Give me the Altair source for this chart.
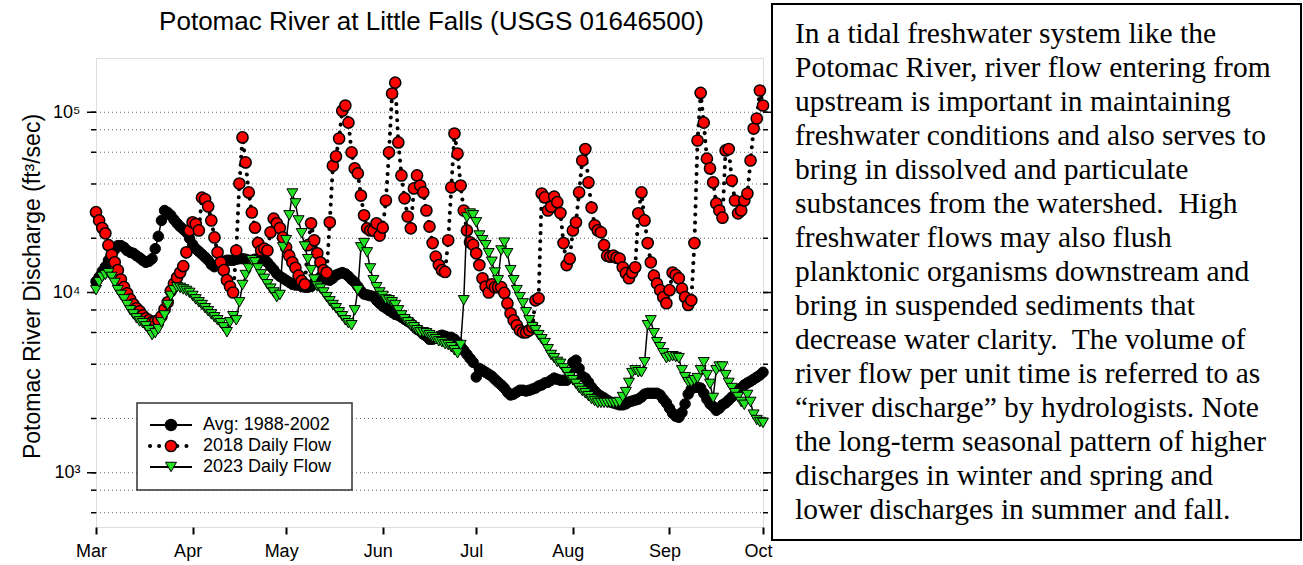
import altair as alt
import pandas as pd

# ---------------- data ----------------
month_labels = ["Mar", "Apr", "May", "Jun", "Jul", "Aug", "Sep", "Oct"]
month_start_days = [0, 31, 61, 92, 122, 153, 184, 214]

y_tick_values = [1000, 10000, 100000]
y_tick_labels = ["10\u00b3", "10\u2074", "10\u2075"]
grid_values = [600, 800, 1000, 2000, 4000, 6000, 8000, 10000, 20000, 40000, 60000, 80000, 100000]

series_names = ["Avg: 1988-2002", "2018 Daily Flow", "2023 Daily Flow"]

avg_1988_2002 = [
    11500, 12200, 13100, 13900, 15100, 16200, 17300, 18200, 18200, 17800,
    17100, 16700, 16500, 16000, 15600, 15100, 14700, 14900, 15400, 17500,
    20500, 25100, 28500, 27800, 26800, 25400, 24200, 23200, 22400, 21600,
    20000, 18500, 17500, 16900, 16300, 15700, 15100, 14300, 13900, 14300,
    14700, 14900, 15100, 15100, 15100, 15300, 15400, 15400, 15300, 15100,
    15100, 15300, 15400, 15400, 15300, 14700, 14000, 13400, 12700, 12300,
    12000, 11700, 11400, 11100, 11000, 11000, 10800, 10700, 10700, 10800,
    11300, 11800, 12200, 12000, 11800, 11700, 12000, 12500, 12700, 12900,
    12700, 12300, 11800, 11400, 10800, 10200, 9800, 9700, 9600, 9500,
    9050, 8700, 8400, 8200, 7960, 7760, 7560, 7470, 7290, 7100,
    6930, 6760, 6500, 6250, 6100, 5870, 5720, 5500, 5500, 5570,
    5720, 5800, 5720, 5640, 5640, 5500, 5300, 5030, 4780, 4540,
    4310, 4100, 3400, 3790, 3700, 3610, 3520, 3430, 3300, 3180,
    3070, 2950, 2800, 2700, 2730, 2800, 2870, 2870, 2840, 2870,
    2910, 2950, 3030, 3070, 3150, 3180, 3260, 3350, 3300, 3260,
    3260, 3260, 3610, 4100, 4210, 3790, 3430, 3350, 3180, 2980,
    2840, 2730, 2660, 2600, 2530, 2470, 2440, 2410, 2380, 2380,
    2410, 2470, 2500, 2530, 2560, 2630, 2730, 2760, 2760, 2760,
    2760, 2700, 2560, 2440, 2280, 2140, 2060, 2030, 2160, 2410,
    2730, 2910, 2980, 2980, 2950, 2760, 2560, 2410, 2330, 2220,
    2280, 2380, 2440, 2530, 2630, 2730, 2840, 2950, 3070, 3150,
    3220, 3300, 3390, 3480, 3610,
]

flow_2018 = [
    27900, 25100, 22800, 21300, 18300, 16200, 14700, 13300, 11800, 10700,
    9900, 9150, 8600, 8180, 7860, 7460, 7180, 7010, 6830, 6920,
    7010, 7380, 8070, 8820, 10200, 11200, 12100, 12900, 14000, 16700,
    22100, 24500, 24000, 22100, 33600, 32900, 30000, 25100, 20200, 16700,
    14700, 13300, 11700, 10800, 10000, 17100, 40200, 72500, 52700, 35900,
    27800, 22900, 18800, 17100, 17500, 17100, 21600, 25700, 24200, 22800,
    20200, 17800, 16000, 14700, 13700, 12400, 11600, 11100, 18300, 24200,
    19500, 16500, 14700, 13300, 12900, 24500, 50500, 56900, 71500, 102000,
    109000, 87600, 59900, 48800, 45800, 34500, 26800, 22700, 22100, 22100,
    24200, 20700, 22900, 32400, 59900, 127000, 146000, 68000, 44600, 33300,
    26400, 22700, 37800, 44600, 39200, 35900, 28500, 23200, 18800, 15800,
    14200, 13300, 13000, 19500, 38300, 76200, 58900, 39200, 28500, 22100,
    19000, 18400, 16500, 14200, 12000, 10800, 10000, 11100, 10700, 10700,
    10700, 9950, 8700, 7660, 7010, 6580, 6170, 6010, 6010, 6170,
    6420, 9050, 9280, 35400, 33700, 28500, 29900, 34000, 31700, 27600,
    18800, 14200, 15400, 22100, 24500, 35900, 54000, 62500, 40800, 29600,
    23600, 22100, 21600, 18300, 16000, 15800, 16000, 15600, 15400, 13800,
    12800, 12000, 12900, 13800, 27500, 35900, 25100, 18800, 14700, 12400,
    11200, 10300, 9420, 8720, 10300, 12900, 12500, 12000, 10500, 9420,
    8530, 9050, 18800, 69700, 128000, 87600, 55300, 48800, 40800, 31200,
    28500, 26000, 61400, 62500, 41800, 32400, 27500, 28500, 32400, 35400,
    54000, 81200, 92300, 132000, 109000,
]

flow_2023 = [
    10300, 11400, 12200, 12500, 12800, 12200, 11300, 10300, 9690, 9160,
    8520, 7960, 7560, 7190, 6910, 6750, 6490, 6170, 5800, 5950,
    6250, 6830, 7460, 8520, 9570, 10300, 10700, 10600, 10400, 10200,
    9950, 9570, 9160, 8820, 8520, 8180, 7860, 7560, 7280, 7010,
    6750, 6410, 6020, 6830, 7380, 7010, 8820, 11000, 12500, 13600,
    15100, 14700, 13600, 12600, 11900, 11100, 10500, 10000, 9420, 9690,
    17800, 19500, 26800, 35400, 31200, 25100, 21300, 18000, 15300, 13300,
    11800, 10800, 10500, 10000, 9420, 8930, 8520, 8180, 7760, 7380,
    7010, 6750, 6580, 7960, 10300, 17800, 18800, 16700, 13600, 11700,
    10700, 10000, 9570, 9150, 9050, 8820, 8520, 7960, 7460, 7100,
    6830, 6580, 6410, 6170, 6010, 6010, 5940, 5800, 5640, 5500,
    5360, 5300, 5170, 5110, 4970, 4780, 4600, 5110, 9050, 26100,
    27400, 26800, 24500, 20700, 19500, 18300, 16500, 14800, 12900, 11700,
    17100, 18900, 16500, 13300, 11700, 10300, 9420, 8700, 7770, 7010,
    6420, 6170, 5800, 5500, 5240, 4840, 4500, 4320, 4120, 4020,
    3790, 3610, 3390, 3260, 3110, 2950, 2840, 2760, 2660, 2560,
    2500, 2440, 2440, 2440, 2440, 2440, 2440, 2440, 2470, 2630,
    2800, 3150, 3570, 3700, 3610, 3610, 4100, 6580, 7010, 5940,
    5300, 4970, 4600, 4320, 4380, 4430, 4380, 4320, 3700, 3390,
    3180, 3180, 3260, 3350, 3700, 4100, 3480, 3110, 2600, 3700,
    3880, 3880, 3480, 3150, 2950, 2760, 2630, 2470, 2380, 2700,
    2470, 2100, 1960, 1910, 1890,
]

title_text = "Potomac River at Little Falls (USGS 01646500)"
y_title_text = "Potomac River Discharge (ft\u00b3/sec)"

note_lines = [
    "In a tidal freshwater system like the",
    "Potomac River, river flow entering from",
    "upstream is important in maintaining",
    "freshwater conditions and also serves to",
    "bring in dissolved and particulate",
    "substances from the watershed.\u00a0 High",
    "freshwater flows may also flush",
    "planktonic organisms downstream and",
    "bring in suspended sediments that",
    "decrease water clarity.\u00a0 The volume of",
    "river flow per unit time is referred to as",
    "\u201criver discharge\u201d by hydrologists. Note",
    "the long-term seasonal pattern of higher",
    "discharges in winter and spring and",
    "lower discharges in summer and fall.",
]

# ---------------- layout ----------------
W, H = 667, 469
PAD = {"left": 96, "top": 58, "right": 1303 - 96 - W, "bottom": 565 - 58 - H}
SANS = "Liberation Sans"
SERIF = "Liberation Serif"

dates = pd.date_range("2023-03-01", periods=len(avg_1988_2002), freq="D")
day = [(d - dates[0]).days for d in dates]

df_avg = pd.DataFrame({"day": day, "value": avg_1988_2002})
df_2018 = pd.DataFrame({"day": day, "value": flow_2018})
df_2023 = pd.DataFrame({"day": day, "value": flow_2023})
df_grid = pd.DataFrame({"value": grid_values})
df_major = pd.DataFrame({"value": y_tick_values})
one = pd.DataFrame({"k": [0]})

x_label_expr = "{}[indexof({}, datum.value)]".format(
    "[" + ",".join("'%s'" % m for m in month_labels) + "]",
    "[" + ",".join(str(v) for v in month_start_days) + "]",
)
y_label_expr = " : ".join(
    "datum.value == {} ? '{}'".format(v, l) for v, l in zip(y_tick_values[:-1], y_tick_labels[:-1])
) + " : '{}'".format(y_tick_labels[-1])

x_enc = alt.X(
    "day:Q",
    scale=alt.Scale(domain=[0, 214], nice=False, zero=False),
    axis=alt.Axis(
        values=month_start_days, labelExpr=x_label_expr, title=None, grid=False,
        domain=False, ticks=True, tickSize=7, tickWidth=2, tickColor="black",
        labelFont=SANS, labelFontSize=18, labelColor="black", labelPadding=8,
        labelOffset=-5, labelFlush=False, labelOverlap=False,
    ),
)
y_enc = alt.Y(
    "value:Q",
    scale=alt.Scale(type="log", domain=[500, 200000], nice=False),
    axis=alt.Axis(
        values=y_tick_values, labelExpr=y_label_expr, title=None, grid=False,
        domain=False, ticks=False, labelPadding=16, labelFont=SANS,
        labelFontSize=18, labelColor="black", labelOverlap=False,
    ),
)

layers = []

# dotted grid lines
layers.append(
    alt.Chart(df_grid).mark_rule(color="#666666", strokeDash=[1, 3], strokeWidth=1)
    .encode(y=y_enc, x=alt.value(0), x2=alt.value(W))
)
# minor and major ticks on both vertical axes
for data, ln in [(df_grid, 5), (df_major, 9)]:
    layers.append(
        alt.Chart(data).mark_rule(color="black", strokeWidth=1.5)
        .encode(y=y_enc, x=alt.value(-ln), x2=alt.value(0))
    )
    layers.append(
        alt.Chart(data).mark_rule(color="black", strokeWidth=1.5)
        .encode(y=y_enc, x=alt.value(W), x2=alt.value(W + ln))
    )

# series
layers.append(alt.Chart(df_avg).mark_line(color="black", strokeWidth=1.5).encode(x=x_enc, y=y_enc))
layers.append(
    alt.Chart(df_avg).mark_point(shape="circle", filled=True, fill="black", stroke="black",
                                 strokeWidth=1, size=110, opacity=1).encode(x=x_enc, y=y_enc)
)
layers.append(
    alt.Chart(df_2018).mark_line(color="black", strokeWidth=4, strokeDash=[0.1, 8], strokeCap="round")
    .encode(x=x_enc, y=y_enc)
)
layers.append(
    alt.Chart(df_2018).mark_point(shape="circle", filled=True, fill="#ff0000", stroke="black",
                                  strokeWidth=1.5, size=125, opacity=1).encode(x=x_enc, y=y_enc)
)
layers.append(alt.Chart(df_2023).mark_line(color="black", strokeWidth=1.5).encode(x=x_enc, y=y_enc))
layers.append(
    alt.Chart(df_2023).mark_point(shape="triangle-down", filled=True, fill="#22e022", stroke="black",
                                  strokeWidth=1, size=120, opacity=1).encode(x=x_enc, y=y_enc)
)

# legend box
LX0, LX1, LY0, LY1 = 41, 256, 345, 432
layers.append(
    alt.Chart(one).mark_rect(fill="white", stroke="#333333", strokeWidth=1.5)
    .encode(x=alt.value(LX0), x2=alt.value(LX1), y=alt.value(LY0), y2=alt.value(LY1))
)
rows = [367, 388, 409]
# Avg row
layers.append(alt.Chart(one).mark_rule(color="black", strokeWidth=2)
              .encode(x=alt.value(54), x2=alt.value(96), y=alt.value(rows[0])))
layers.append(alt.Chart(one).mark_point(shape="circle", filled=True, fill="black", stroke="black", size=110, opacity=1)
              .encode(x=alt.value(75), y=alt.value(rows[0])))
# 2018 row
layers.append(alt.Chart(one).mark_rule(color="black", strokeWidth=4, strokeDash=[0.1, 9], strokeCap="round")
              .encode(x=alt.value(54), x2=alt.value(96), y=alt.value(rows[1])))
layers.append(alt.Chart(one).mark_point(shape="circle", filled=True, fill="#ff0000", stroke="black",
                                        strokeWidth=1.5, size=125, opacity=1)
              .encode(x=alt.value(75), y=alt.value(rows[1])))
# 2023 row
layers.append(alt.Chart(one).mark_rule(color="black", strokeWidth=2)
              .encode(x=alt.value(54), x2=alt.value(96), y=alt.value(rows[2])))
layers.append(alt.Chart(one).mark_point(shape="triangle-down", filled=True, fill="#22e022", stroke="black",
                                        strokeWidth=1, size=120, opacity=1)
              .encode(x=alt.value(75), y=alt.value(rows[2])))
for name, ry in zip(series_names, rows):
    layers.append(
        alt.Chart(one).mark_text(text=name, font=SANS, fontSize=18, color="black",
                                 align="left", baseline="middle")
        .encode(x=alt.value(107), y=alt.value(ry))
    )

# chart title and y-axis title
layers.append(
    alt.Chart(one).mark_text(text=title_text, font=SANS, fontSize=26, color="black",
                             align="center", baseline="alphabetic")
    .encode(x=alt.value(W / 2 + 2), y=alt.value(-28))
)
layers.append(
    alt.Chart(one).mark_text(text=y_title_text, font=SANS, fontSize=23, color="black",
                             align="center", baseline="middle", angle=270)
    .encode(x=alt.value(-63), y=alt.value(H / 2 - 6))
)

# explanatory text box on the right
layers.append(
    alt.Chart(one).mark_rect(fill="white", stroke="black", strokeWidth=2)
    .encode(x=alt.value(676), x2=alt.value(1205), y=alt.value(-54), y2=alt.value(482))
)
for i, line in enumerate(note_lines):
    layers.append(
        alt.Chart(one).mark_text(text=line, font=SERIF, fontSize=29.5, color="black",
                                 align="left", baseline="alphabetic")
        .encode(x=alt.value(699), y=alt.value(-15 + 34.0 * i))
    )

chart = (
    alt.layer(*layers)
    .properties(width=W, height=H, autosize=alt.AutoSizeParams(type="none"), padding=PAD)
    .configure_view(stroke="black", strokeWidth=2)
    .configure(background="white")
)

chart.save("out.html", embed_options={"renderer": "svg", "actions": False})
